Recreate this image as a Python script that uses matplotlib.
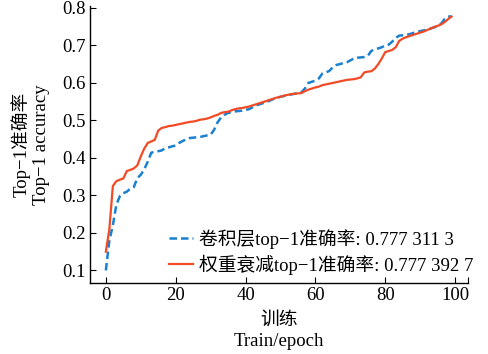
import matplotlib
matplotlib.use("Agg")
import matplotlib.pyplot as plt

plt.rcParams['font.family'] = ['Liberation Serif', 'Noto Sans CJK SC', 'DejaVu Sans']
plt.rcParams['axes.unicode_minus'] = True

epochs = list(range(100))

conv_acc = [0.10, 0.18, 0.22, 0.275, 0.298, 0.306, 0.31, 0.318, 0.322, 0.346,
            0.355, 0.37, 0.39, 0.414, 0.416, 0.418, 0.42, 0.426, 0.428, 0.431,
            0.433, 0.44, 0.445, 0.45, 0.453, 0.454, 0.455, 0.456, 0.458, 0.46,
            0.462, 0.475, 0.495, 0.508, 0.515, 0.52, 0.522, 0.524, 0.525, 0.526,
            0.528, 0.53, 0.535, 0.54, 0.543, 0.546, 0.549, 0.553, 0.557, 0.56,
            0.563, 0.565, 0.567, 0.569, 0.571, 0.573, 0.575, 0.585, 0.60, 0.603,
            0.606, 0.612, 0.625, 0.628, 0.632, 0.642, 0.648, 0.65, 0.653, 0.655,
            0.66, 0.665, 0.667, 0.668, 0.669, 0.672, 0.685, 0.69, 0.692, 0.695,
            0.70, 0.702, 0.71, 0.72, 0.726, 0.727, 0.728, 0.73, 0.733, 0.736,
            0.738, 0.74, 0.742, 0.745, 0.748, 0.752, 0.758, 0.77, 0.777, 0.777]

decay_acc = [0.15, 0.21, 0.325, 0.338, 0.342, 0.345, 0.365, 0.368, 0.372, 0.38,
             0.404, 0.425, 0.44, 0.444, 0.448, 0.473, 0.48, 0.482, 0.485, 0.486,
             0.488, 0.49, 0.492, 0.494, 0.496, 0.497, 0.499, 0.502, 0.503, 0.505,
             0.508, 0.512, 0.515, 0.52, 0.522, 0.523, 0.527, 0.53, 0.532, 0.533,
             0.535, 0.537, 0.54, 0.543, 0.546, 0.549, 0.552, 0.555, 0.558, 0.561,
             0.563, 0.566, 0.568, 0.57, 0.571, 0.572, 0.573, 0.578, 0.582, 0.585,
             0.588, 0.59, 0.594, 0.596, 0.598, 0.60, 0.602, 0.604, 0.606, 0.608,
             0.609, 0.61, 0.612, 0.615, 0.628, 0.63, 0.631, 0.638, 0.65, 0.665,
             0.682, 0.685, 0.688, 0.695, 0.712, 0.718, 0.722, 0.725, 0.728, 0.731,
             0.734, 0.737, 0.741, 0.745, 0.749, 0.752, 0.756, 0.762, 0.77, 0.777]

label_conv = "卷积层top−1准确率: 0.777 311 3"
label_decay = "权重衰减top−1准确率: 0.777 392 7"
xticks = [0, 20, 40, 60, 80, 100]
yticks = [0.1, 0.2, 0.3, 0.4, 0.5, 0.6, 0.7, 0.8]

FS = 13.5

fig = plt.figure(figsize=(4.88, 3.54), dpi=100)
ax = fig.add_axes([0.184, 0.200, 0.775, 0.783])

ax.plot(epochs, conv_acc, color='#1a80d0', linestyle='--', linewidth=1.8,
        dashes=(3, 1.6), label=label_conv)
ax.plot(epochs, decay_acc, color='#f24a24', linestyle='-', linewidth=1.6,
        label=label_decay)

ax.set_xlim(-4.6, 103.7)
ax.set_ylim(0.066, 0.805)
ax.set_xticks(xticks)
ax.set_xticks([103.6], minor=True)
ax.set_yticks(yticks)
ax.set_yticklabels([f"{v:.1f}" for v in yticks])
ax.tick_params(direction='in', labelsize=FS, length=4, width=0.8, pad=3)
ax.tick_params(which='minor', direction='in', length=4, width=0.8)
for s in ['top', 'right']:
    ax.spines[s].set_visible(False)
for s in ['left', 'bottom']:
    ax.spines[s].set_linewidth(1.0)

ax.set_xlabel("训练\nTrain/epoch", fontsize=FS, linespacing=1.35, labelpad=5)
ax.set_ylabel("Top−1准确率\nTop−1 accuracy", fontsize=FS, linespacing=1.12, labelpad=9)

leg = ax.legend(loc='lower right', frameon=False, fontsize=FS,
                handlelength=1.25, handletextpad=0.35, borderaxespad=0.2,
                labelspacing=0.3, bbox_to_anchor=(1.045, -0.01))

fig.savefig("out.png", dpi=100)
